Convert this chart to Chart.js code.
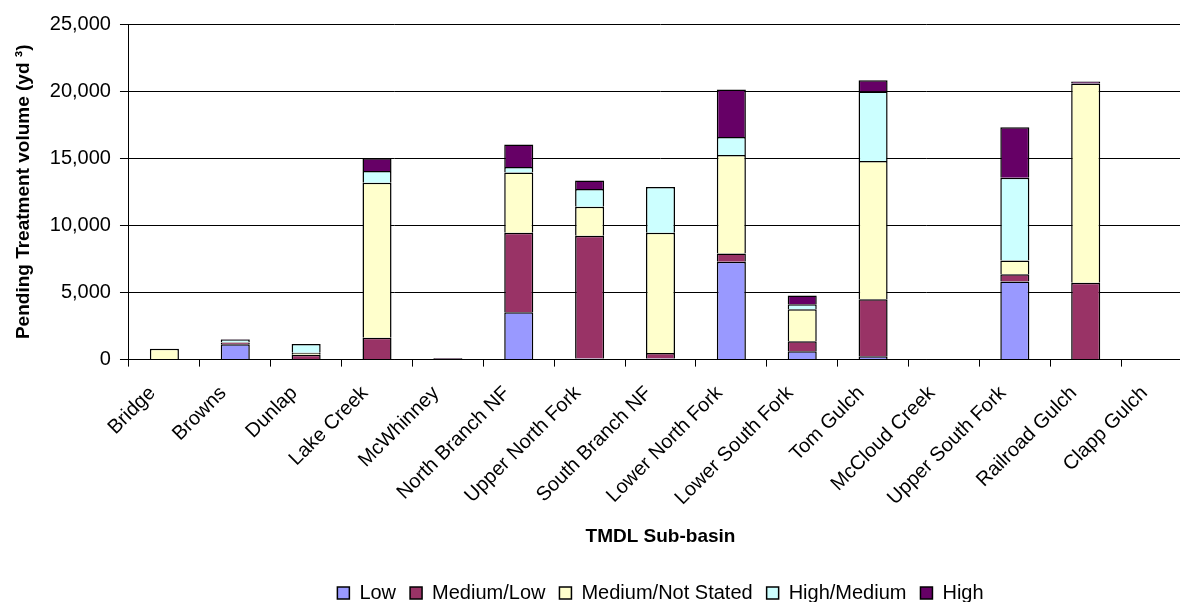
<!DOCTYPE html>
<html>
<head>
<meta charset="utf-8">
<script src="https://cdn.jsdelivr.net/npm/chart.js@4.4.1/dist/chart.umd.min.js"></script>
<style>
    html, body { margin: 0; padding: 0; background: #fff; overflow: hidden; }
    .chart-wrapper { position: relative; width: 1192px; height: 613px; }
</style>
</head>
<body>
<div class="chart-wrapper">
    <canvas id="chart"></canvas>
</div>
<script>
// Sub-basins along the x axis
const categories = ['Bridge', 'Browns', 'Dunlap', 'Lake Creek', 'McWhinney', 'North Branch NF',
    'Upper North Fork', 'South Branch NF', 'Lower North Fork', 'Lower South Fork', 'Tom Gulch',
    'McCloud Creek', 'Upper South Fork', 'Railroad Gulch', 'Clapp Gulch'];

// Pending treatment volume (yd3) by priority
const low             = [0, 1150, 0, 0, 0, 3530, 80, 80, 7290, 620, 250, 0, 5820, 50, 0];
const mediumLow       = [50, 120, 370, 1620, 60, 5920, 9150, 420, 620, 750, 4250, 0, 540, 5670, 0];
const mediumNotStated = [750, 30, 150, 11560, 0, 4480, 2160, 8950, 7330, 2380, 10290, 0, 1030, 14850, 0];
const highMedium      = [0, 200, 650, 870, 0, 420, 1310, 3400, 1340, 380, 5180, 0, 6160, 0, 0];
const high            = [0, 40, 0, 950, 60, 1670, 650, 0, 3540, 640, 840, 0, 3750, 150, 0];

const yTicks = [0, 5000, 10000, 15000, 20000, 25000];

const FONT = 'Liberation Sans, Arial, sans-serif';

function series(label, data, color) {
    return {
        label: label,
        data: data,
        backgroundColor: color,
        borderColor: '#000',
        borderWidth: 1.5,
        barPercentage: 0.41,
        categoryPercentage: 1.0
    };
}

new Chart(document.getElementById('chart'), {
    type: 'bar',
    data: {
        labels: categories,
        datasets: [
            series('Low', low, '#9999FF'),
            series('Medium/Low', mediumLow, '#993366'),
            series('Medium/Not Stated', mediumNotStated, '#FFFFCC'),
            series('High/Medium', highMedium, '#CCFFFF'),
            series('High', high, '#660066')
        ]
    },
    options: {
        responsive: true,
        maintainAspectRatio: false,
        animation: false,
        layout: {
            padding: { top: 24, left: 12, right: 0, bottom: 0 }
        },
        plugins: {
            legend: {
                position: 'bottom',
                fullSize: false,
                labels: {
                    color: '#000',
                    font: { family: FONT, size: 20 },
                    boxWidth: 12,
                    boxHeight: 12,
                    padding: 14
                }
            },
            tooltip: { enabled: false },
            title: { display: false }
        },
        scales: {
            x: {
                stacked: true,
                border: { color: '#000', width: 1 },
                grid: {
                    offset: true,
                    drawOnChartArea: false,
                    drawTicks: true,
                    tickLength: 7,
                    tickColor: '#000'
                },
                ticks: {
                    color: '#000',
                    font: { family: FONT, size: 20 },
                    maxRotation: 45,
                    minRotation: 45,
                    autoSkip: false,
                    padding: 15,
                    labelOffset: -12
                },
                title: {
                    display: true,
                    text: 'TMDL Sub-basin',
                    color: '#000',
                    font: { family: FONT, size: 19, weight: 'bold' },
                    padding: { top: 0, bottom: 21 }
                }
            },
            y: {
                stacked: true,
                min: 0,
                max: 25000,
                border: { color: '#000', width: 1 },
                grid: {
                    color: '#000',
                    lineWidth: 1,
                    tickLength: 9,
                    tickColor: '#000'
                },
                afterBuildTicks: axis => {
                    axis.ticks = yTicks.map(v => ({ value: v }));
                },
                ticks: {
                    color: '#000',
                    font: { family: FONT, size: 20 },
                    padding: 9,
                    callback: value => Number(value).toLocaleString('en-US')
                },
                title: {
                    display: true,
                    text: 'Pending Treatment volume (yd ³)',
                    color: '#000',
                    font: { family: FONT, size: 19, weight: 'bold' },
                    padding: { top: 0, bottom: 6 }
                }
            }
        }
    }
});
</script>
</body>
</html>
